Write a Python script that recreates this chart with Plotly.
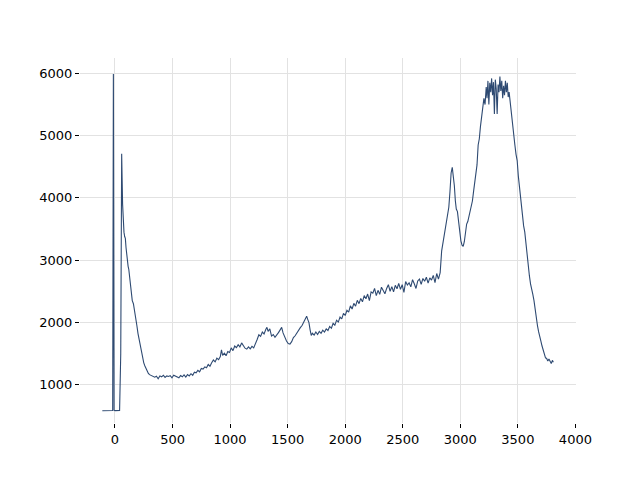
import plotly.graph_objects as go

wavenumber = [
    -110, -80, -50, -30, -20, -14, -8, 0, 20, 40, 50, 54, 58,
    62, 66, 72, 78, 84, 90, 96, 102, 108, 114, 120, 130, 140, 150, 160, 170, 180,
    190, 200, 210, 220, 230, 240, 250, 260, 270, 280, 290, 300, 315, 330,
    345, 360, 375, 390, 405, 420, 435, 450, 465, 480, 495, 510, 525, 540, 555,
    570, 585, 600, 615, 630, 645,
    660, 675, 690, 705, 720, 735, 750, 765, 780, 795, 810, 825, 840, 855, 870,
    885, 900, 915, 925, 935, 950, 965, 980, 995, 1010, 1025, 1040, 1055, 1070,
    1085, 1100, 1115, 1130, 1145, 1160, 1175, 1190, 1205, 1220, 1235, 1250,
    1265, 1280, 1295, 1310, 1320, 1330, 1345, 1360, 1375, 1390, 1405, 1420,
    1435, 1448, 1460, 1475, 1490, 1505, 1520, 1535, 1550, 1565, 1580, 1595,
    1610, 1625, 1640, 1655, 1665, 1675, 1685, 1695, 1705, 1715, 1730, 1745,
    1760, 1775, 1790, 1805, 1820, 1835, 1850, 1865, 1880, 1895, 1910, 1925,
    1940, 1955, 1970, 1985, 2000, 2015, 2030, 2045, 2060, 2075, 2090, 2105,
    2120, 2135, 2150, 2165, 2180, 2195, 2210, 2225, 2240, 2255, 2270, 2285,
    2300, 2315, 2330, 2345, 2360, 2375, 2390, 2405, 2420, 2435, 2450, 2465,
    2480, 2495, 2510, 2525, 2540, 2555, 2570, 2585, 2600, 2615, 2630, 2645,
    2660, 2675, 2690, 2705, 2720, 2735, 2750, 2765, 2780, 2795, 2810, 2825,
    2838, 2850, 2862, 2875, 2888, 2900, 2910, 2920, 2930, 2940, 2948, 2957,
    2965, 2975, 2985, 2995, 3005, 3015, 3025, 3035, 3045, 3055, 3065, 3075,
    3085, 3095, 3105, 3115, 3125, 3135, 3145, 3155, 3165, 3175, 3185, 3195,
    3205, 3215, 3225, 3232, 3240, 3248, 3256, 3264, 3272, 3280, 3288, 3296,
    3304, 3312, 3320, 3328, 3336, 3344, 3352, 3360, 3368, 3376, 3384, 3392,
    3400, 3408, 3416, 3424, 3432, 3440, 3448, 3456, 3464, 3474, 3484, 3494,
    3504, 3512, 3520, 3530, 3540, 3550, 3560, 3570, 3580, 3590, 3600, 3610,
    3620, 3630, 3640, 3650, 3660, 3670, 3680, 3690, 3700, 3710, 3720, 3730,
    3740, 3750, 3760, 3770, 3780, 3790, 3800, 3808,
]

intensity = [
    580, 578, 580, 582, 585, 5990, 590, 582, 580, 585, 1500, 3000, 4710,
    4300, 3900, 3600, 3450, 3380, 3350, 3200, 3050, 2950, 2900, 2850, 2700, 2500, 2350, 2300, 2200, 2080,
    1950, 1820, 1720, 1620, 1500, 1420, 1350, 1300, 1250, 1210, 1180, 1160, 1150, 1140,
    1120, 1135, 1095, 1140, 1125, 1150, 1115, 1140, 1130, 1145, 1110, 1150, 1140, 1125, 1110,
    1145, 1125, 1155, 1120, 1160, 1140,
    1175, 1150, 1200, 1190, 1230, 1205, 1260, 1250, 1285, 1270, 1325, 1295, 1350, 1395, 1365,
    1425, 1400, 1450, 1560, 1470, 1505, 1465, 1530, 1515, 1590, 1545, 1620, 1595, 1640,
    1605, 1670, 1625, 1585, 1570, 1605, 1575, 1615, 1590, 1650, 1725, 1800,
    1775, 1845, 1815, 1885, 1920, 1855, 1895, 1780, 1805, 1760, 1790, 1835,
    1880, 1920, 1830, 1760, 1700, 1660, 1650, 1690, 1755, 1785, 1835, 1865,
    1915, 1950, 2005, 2075, 2100, 2045, 1995, 1880, 1790, 1825, 1795, 1845,
    1805, 1855, 1825, 1875, 1845, 1895, 1870, 1935, 1905, 1985, 1955, 2035,
    2005, 2085, 2055, 2145, 2110, 2195, 2165, 2265, 2215, 2305, 2260, 2355,
    2300, 2385, 2330, 2430, 2380, 2455, 2350, 2490, 2470, 2545, 2430, 2515,
    2450, 2565, 2520, 2460, 2545, 2605, 2500, 2575, 2490, 2595, 2540, 2625,
    2530, 2605, 2480, 2655, 2600, 2635, 2570, 2685, 2620, 2545, 2665, 2695,
    2610, 2705, 2660, 2725, 2630, 2715, 2680, 2755, 2640, 2785, 2695, 2800,
    3150, 3300, 3450, 3550, 3700, 3850, 4100, 4400, 4490, 4350, 4200, 3950,
    3820, 3780, 3600, 3400, 3310, 3240, 3220, 3300, 3420, 3580, 3620, 3700,
    3790, 3850, 3950, 4100, 4250, 4400, 4530, 4850, 4950, 5150, 5300, 5400,
    5600, 5500, 5780, 5600, 5880, 5500, 5850, 5700, 5920, 5650, 5860, 5350,
    5900, 5750, 5350, 5820, 5700, 5950, 5720, 5880, 5600, 5800, 5650, 5880,
    5700, 5850, 5620, 5700, 5550, 5450, 5350, 5150, 5020, 4850, 4700, 4600,
    4350, 4200, 4050, 3850, 3700, 3550, 3450, 3250, 3100, 2950, 2750, 2620,
    2550, 2450, 2350, 2200, 2050, 1950, 1850, 1750, 1700, 1620, 1550, 1500,
    1430, 1420, 1380, 1410, 1370, 1340, 1390, 1360,
]

x_ticks = [0, 500, 1000, 1500, 2000, 2500, 3000, 3500, 4000]
y_ticks = [1000, 2000, 3000, 4000, 5000, 6000]

fig = go.Figure()
fig.add_trace(go.Scatter(
    x=wavenumber, y=intensity, mode="lines",
    line=dict(color="#2e4a72", width=1.1),
    showlegend=False,
))

axis_common = dict(
    showline=False, zeroline=False, automargin=False,
    showgrid=True, gridcolor="#e2e2e2", gridwidth=1,
    ticks="outside", ticklen=4, tickwidth=1, tickcolor="#000000",
    tickfont=dict(family="DejaVu Sans", size=13, color="#000000"),
)

fig.update_layout(
    width=640, height=480,
    paper_bgcolor="white", plot_bgcolor="white",
    margin=dict(l=72, r=72, t=50, b=65),
    xaxis=dict(range=[-304, 4005], tickvals=x_ticks,
               ticktext=[str(v) for v in x_ticks], **axis_common),
    yaxis=dict(range=[383, 6248], tickvals=y_ticks,
               ticktext=[str(v) for v in y_ticks], **axis_common),
)

fig.write_html("out.html")
